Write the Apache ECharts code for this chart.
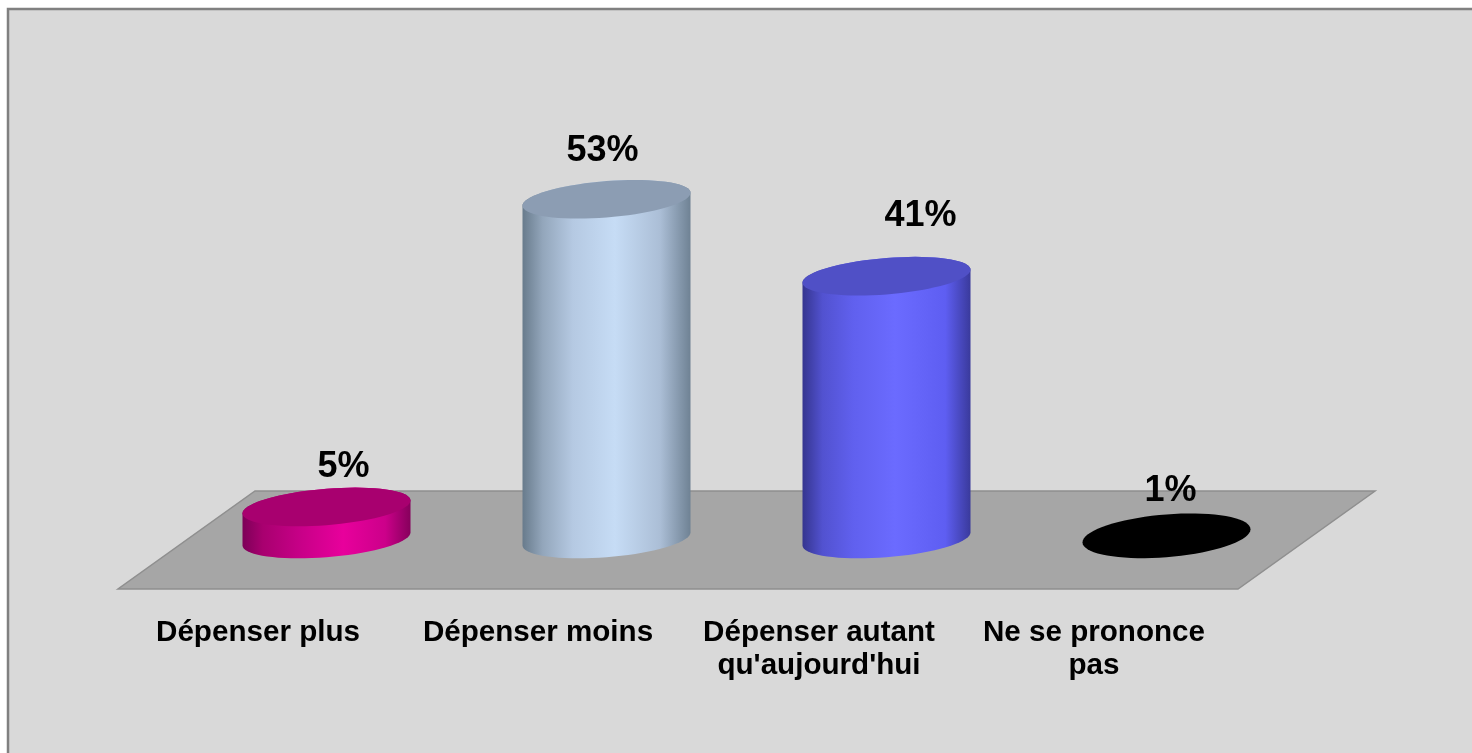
<!DOCTYPE html>
<html>
<head>
<meta charset="UTF-8">
<script src="https://cdn.jsdelivr.net/npm/echarts@6/dist/echarts.min.js"></script>
<title>Dépenser</title>
<style>
html, body { margin: 0; padding: 0; background: #fff; }
#main { width: 1472px; height: 753px; }
</style>
</head>
<body>
<div id="main"></div>
<script type="text/javascript">
var categories = ['Dépenser plus', 'Dépenser moins', "Dépenser autant\nqu'aujourd'hui", 'Ne se prononce\npas'];
var values = [5, 53, 41, 1];
var valueLabels = ['5%', '53%', '41%', '1%'];

// colours of each cylinder: side gradient stops and top face
var sideStops = [
	[[0, '#7d0058'], [0.12, '#a8006f'], [0.35, '#c80088'], [0.6, '#e8009c'], [0.85, '#cc008a'], [1, '#86005c']],
	[[0, '#687b8c'], [0.12, '#93a6bb'], [0.3, '#b5c9e2'], [0.55, '#c6dcf5'], [0.82, '#abbed6'], [1, '#6f8294']],
	[[0, '#35358f'], [0.12, '#5252d0'], [0.3, '#6060ee'], [0.55, '#6b6bff'], [0.85, '#5e5ef2'], [1, '#3a3a9c']],
	[[0, '#000000'], [1, '#000000']]
];
var topColors = ['#a8006f', '#8c9db3', '#5050c6', '#000000'];

// floor depth, the bars stand a little behind its middle
var depthX = 137, depthY = 98, standY = 50;
var radiusX = 84, shearY = 6.5, radiusY = 18.2;
// value label position relative to the top face centre
var labelDx = [17, -4, 34, 4];
var labelDy = [-40, -48, -60, -42];
// last label sits a bit left of its slot
var labelPadding = [[0, 0, 0, 0], [0, 0, 0, 0], [0, 0, 0, 2], [0, 8, 0, 0]];

var myChart = echarts.init(document.getElementById('main'));

function ringPoint(cx, cy, t, ry) {
	return [cx + radiusX * Math.cos(t), cy - shearY * Math.cos(t) + ry * Math.sin(t)];
}

function renderFloor(params, api) {
	var a = api.coord([0, 0]);
	var step = api.size([1, 0])[0];
	var x0 = a[0] - step / 2, x1 = a[0] + step * 3.5, y = a[1];
	return {
		type: 'polygon',
		shape: { points: [[x0, y], [x1, y], [x1 + depthX, y - depthY], [x0 + depthX, y - depthY]] },
		style: { fill: '#a6a6a6', stroke: '#8f8f8f', lineWidth: 1.5 },
		silent: true
	};
}

function renderCylinder(params, api) {
	var i = api.value(0);
	var base = api.coord([i, 0]);
	var top = api.coord([i, api.value(1)]);
	var cx = base[0] + depthX / 2;
	var baseY = base[1] - standY;
	var topY = top[1] - standY;
	var side = [], face = [], n = 72, k, t;
	// a very low cylinder just reads as one round disc
	var flat = baseY - topY < 10;
	var faceY = flat ? (baseY + topY) / 2 : topY;
	var faceR = flat ? radiusY + (baseY - topY) / 2 : radiusY;
	for (k = 0; k <= n / 2; k++) {
		t = Math.PI * k / (n / 2);
		side.push(ringPoint(cx, baseY, t, radiusY));
	}
	for (k = 0; k <= n / 2; k++) {
		t = Math.PI + Math.PI * k / (n / 2);
		side.push(ringPoint(cx, topY, t, radiusY));
	}
	for (k = 0; k < n; k++) {
		face.push(ringPoint(cx, faceY, 2 * Math.PI * k / n, faceR));
	}
	var children = [{
		type: 'polygon',
		shape: { points: face },
		style: { fill: topColors[i] }
	}, {
		type: 'text',
		style: {
			x: cx + labelDx[i],
			y: topY + labelDy[i],
			text: valueLabels[i],
			fill: '#000',
			font: 'bold 36px "Liberation Sans", Arial, sans-serif',
			align: 'center',
			verticalAlign: 'middle'
		}
	}];
	if (!flat) {
		children.unshift({
			type: 'polygon',
			shape: { points: side },
			style: { fill: new echarts.graphic.LinearGradient(cx - radiusX, 0, cx + radiusX, 0, sideStops[i].map(function (s) {
				return { offset: s[0], color: s[1] };
			}), true) }
		});
	}
	return { type: 'group', children: children };
}

var option = {
	animation: false,
	backgroundColor: '#ffffff',
	graphic: [{
		type: 'rect',
		z: -10,
		shape: { x: 8, y: 9, width: 1480, height: 760 },
		style: { fill: '#d9d9d9', stroke: '#808080', lineWidth: 2.5 },
		silent: true
	}],
	grid: { left: 118, top: 204.4, width: 1120, height: 384.6 },
	xAxis: {
		type: 'category',
		data: categories.map(function (c, i) {
			return { value: c, textStyle: { padding: labelPadding[i] } };
		}),
		axisLine: { show: false },
		axisTick: { show: false },
		axisLabel: {
			interval: 0,
			margin: 27,
			color: '#000',
			fontFamily: '"Liberation Sans", Arial, sans-serif',
			fontWeight: 'bold',
			fontSize: 29.6,
			lineHeight: 33
		}
	},
	yAxis: {
		type: 'value',
		min: 0,
		max: 60,
		show: false
	},
	series: [{
		type: 'custom',
		renderItem: renderFloor,
		data: [[0, 0]],
		encode: { x: 0, y: 1 },
		clip: false,
		silent: true,
		z: 1
	}, {
		type: 'custom',
		renderItem: renderCylinder,
		data: values.map(function (v, i) { return [i, v]; }),
		encode: { x: 0, y: 1 },
		clip: false,
		z: 2
	}]
};
myChart.setOption(option);
</script>
</body>
</html>
